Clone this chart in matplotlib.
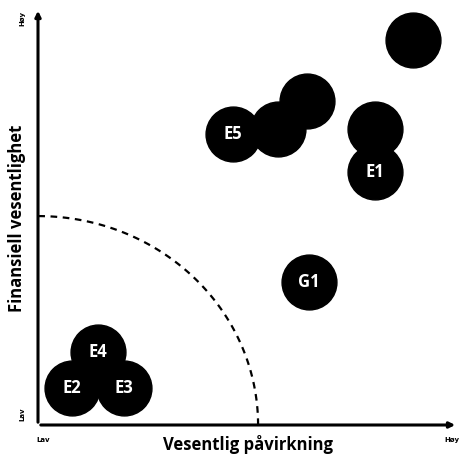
import matplotlib.pyplot as plt
import numpy as np

labels = ['', '', '', 'E5', '', 'E1', 'G1', 'E4', 'E2', 'E3']
impact = [89.3, 64.0, 57.1, 46.4, 80.2, 80.2, 64.5, 14.3, 8.1, 20.5]
financial = [92.3, 77.7, 71.0, 69.8, 71.0, 60.7, 34.2, 17.5, 8.9, 8.9]

threshold_x = 52.4
threshold_y = 50.1

fig = plt.figure(figsize=(4.61, 4.63), dpi=100)
ax = fig.add_axes([38 / 461, 38 / 463, 420 / 461, 417 / 463])
ax.set_xlim(0, 100)
ax.set_ylim(0, 100)
for s in ax.spines.values():
    s.set_visible(False)
ax.set_xticks([])
ax.set_yticks([])

# axes with arrows
ax.annotate('', xy=(1.0, 0), xytext=(0, 0), xycoords='axes fraction',
            arrowprops=dict(arrowstyle='-|>', lw=2.2, color='black', mutation_scale=8),
            annotation_clip=False)
ax.annotate('', xy=(0, 1.0), xytext=(0, 0), xycoords='axes fraction',
            arrowprops=dict(arrowstyle='-|>', lw=2.2, color='black', mutation_scale=8),
            annotation_clip=False)

# threshold curve
t = np.linspace(0, np.pi / 2, 100)
ax.plot(threshold_x * np.cos(t), threshold_y * np.sin(t), '--', color='black', lw=1.6,
        dashes=(3, 2.5))

ax.scatter(impact, financial, s=1560, color='black', zorder=3)
for x, y, lab in zip(impact, financial, labels):
    ax.text(x, y, lab, color='white', fontsize=12, fontweight='bold',
            ha='center', va='center', zorder=4, family='Open Sans')

fig.text(248 / 461, 1 - 445 / 463, 'Vesentlig påvirkning', ha='center', va='center',
         fontsize=12, fontweight='bold', family='Open Sans')
fig.text(17 / 461, 1 - 218 / 463, 'Finansiell vesentlighet', ha='center', va='center',
         rotation=90, fontsize=12, fontweight='bold', family='Open Sans')
fig.text(43 / 461, 1 - 440 / 463, 'Lav', ha='center', va='center', fontsize=5, fontweight='bold')
fig.text(452 / 461, 1 - 440 / 463, 'Høy', ha='center', va='center', fontsize=5, fontweight='bold')
fig.text(22 / 461, 1 - 18 / 463, 'Høy', ha='center', va='center', rotation=90, fontsize=5, fontweight='bold')
fig.text(22 / 461, 1 - 414 / 463, 'Lav', ha='center', va='center', rotation=90, fontsize=5, fontweight='bold')

fig.savefig('out.png', dpi=100)
